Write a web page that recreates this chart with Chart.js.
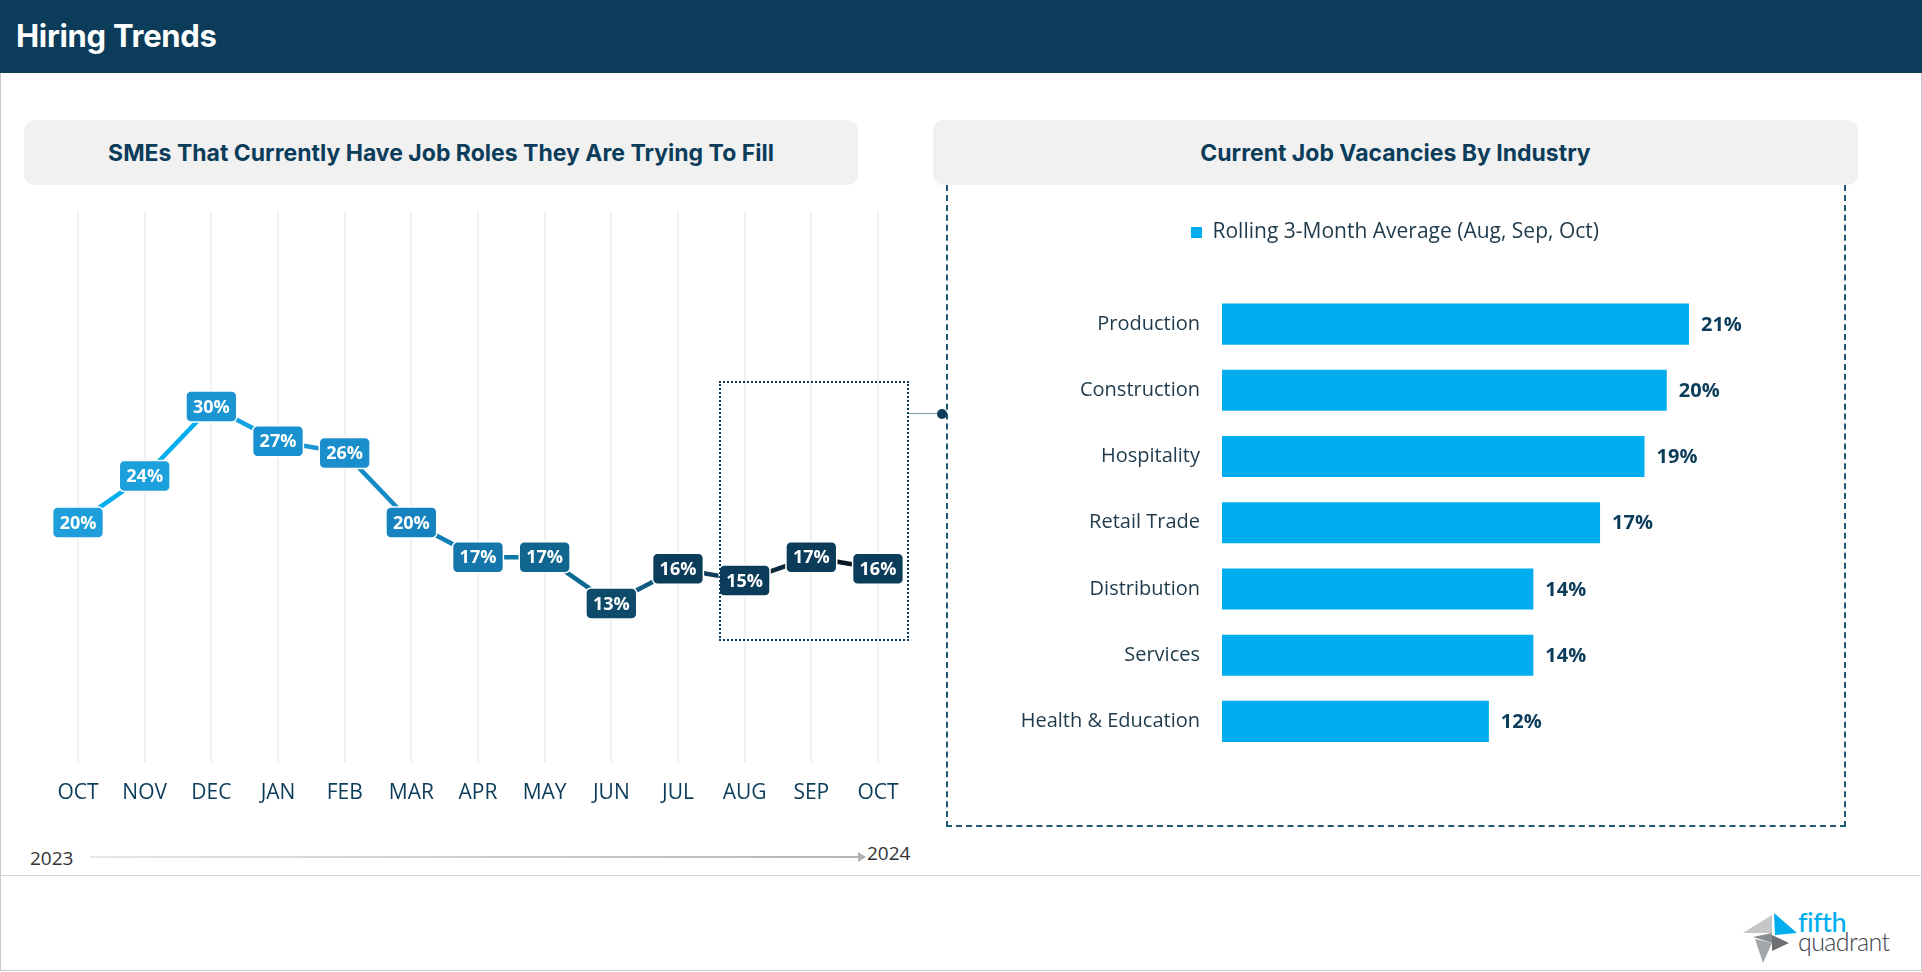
<!DOCTYPE html>
<html>
<head>
<meta charset="utf-8">
<script src="https://cdn.jsdelivr.net/npm/chart.js@4.4.0/dist/chart.umd.min.js"></script>
<style>
  body { margin: 0; width: 1922px; height: 972px; background: #fff; position: relative; overflow: hidden; font-family: "Open Sans", sans-serif; }
  .frame { position: absolute; left: 0; top: 73px; width: 1920px; height: 897px; border-left: 1px solid #c8c8c8; border-right: 1px solid #c8c8c8; border-bottom: 1px solid #c8c8c8; }
  .header { position: absolute; left: 0; top: 0; width: 1922px; height: 73px; background: #0b3c5a; }
  .header h1 { margin: 0; position: absolute; left: 16px; top: 17px; color: #fff; font: 700 31px Inter, sans-serif; line-height: 38px; letter-spacing: -0.3px; }
  .panel-title { position: absolute; top: 120px; height: 65px; background: #f1f1f1; border-radius: 11px; color: #0b3c5a; font: 700 23px Inter, sans-serif; display: flex; align-items: center; justify-content: center; }
  .dash-box { position: absolute; left: 946px; top: 185px; width: 896px; height: 640px; border: 2px dashed #1f5872; border-top: none; }
  .dot-box { position: absolute; left: 719px; top: 381px; width: 186px; height: 256px; border: 2px dotted #0b3c5a; }
  .connector { position: absolute; left: 909px; top: 413px; width: 33px; height: 1px; background: #7d9aa6; }
  .connector-dot { position: absolute; left: 937px; top: 409px; width: 10px; height: 10px; border-radius: 50%; background: #0b3c5a; }
  canvas { position: absolute; }
  .year { position: absolute; font-size: 19px; color: #333; }
  .year-line { position: absolute; left: 90px; top: 856px; width: 768px; height: 2px; background: linear-gradient(to right, #e6e6e6, #b5b5b5); }
  .year-arrow { position: absolute; left: 858px; top: 852px; width: 0; height: 0; border-top: 5px solid transparent; border-bottom: 5px solid transparent; border-left: 8px solid #b0b0b0; }
  .separator { position: absolute; left: 0; top: 875px; width: 1922px; height: 1px; background: #d4d4d4; }
  .logo { position: absolute; left: 1743px; top: 908px; width: 170px; height: 58px; }
  .logo .fifth { position: absolute; left: 55px; top: -3px; font: 500 27px Lato, sans-serif; color: #00aeef; letter-spacing: -0.5px; }
  .logo .quad { position: absolute; left: 55px; top: 18px; font: 300 25px Lato, sans-serif; color: #3a4048; letter-spacing: -0.6px; }
</style>
</head>
<body>
<div class="header"><h1>Hiring Trends</h1></div>
<div class="frame"></div>

<div class="panel-title" style="left:24px; width:834px;">SMEs That Currently Have Job Roles They Are Trying To Fill</div>
<div class="panel-title" style="left:933px; width:925px;">Current Job Vacancies By Industry</div>
<div class="dash-box"></div>

<canvas id="chart-line" width="940" height="647" style="left:0; top:185px; width:940px; height:647px;"></canvas>
<canvas id="chart-bar" width="898" height="642" style="left:946px; top:185px; width:898px; height:642px;"></canvas>

<div class="dot-box"></div>
<div class="connector"></div>
<div class="connector-dot"></div>

<div class="year" style="left:30px; top:845px;">2023</div>
<div class="year-line"></div>
<div class="year-arrow"></div>
<div class="year" style="left:867px; top:840px;">2024</div>
<div class="separator"></div>

<div class="logo">
  <svg width="56" height="52" viewBox="0 0 56 52" style="position:absolute; left:0; top:5px;">
    <polygon points="0,20 29,2 29,20" fill="#c4c6c8"/>
    <polygon points="31,0 32,22 54,20" fill="#00aeef"/>
    <polygon points="29,20 10,24 29,30" fill="#8a8d90"/>
    <polygon points="29,22 46,30 29,38" fill="#6d7073"/>
    <polygon points="12,26 29,30 20,50" fill="#a3a6a9"/>
  </svg>
  <div class="fifth">fifth</div>
  <div class="quad">quadrant</div>
</div>

<script>
const months = ["OCT", "NOV", "DEC", "JAN", "FEB", "MAR", "APR", "MAY", "JUN", "JUL", "AUG", "SEP", "OCT"];
const smeShare = [20, 24, 30, 27, 26, 20, 17, 17, 13, 16, 15, 17, 16];

const industries = ["Production", "Construction", "Hospitality", "Retail Trade", "Distribution", "Services", "Health & Education"];
const vacancyShare = [21, 20, 19, 17, 14, 14, 12];
const vacancyLabel = "Rolling 3-Month Average (Aug, Sep, Oct)";

// colour ramps for the line (light blue fading to navy)
const segmentColors = ["#00aeef", "#00aeef", "#12a3e2", "#1796d3", "#138ac5", "#0e7fb6", "#0b7aa9", "#0b6a90", "#0b5a80", "#0b3c5a", "#0b2b3d", "#08161f"];
const boxColors = ["#1e9fdb", "#1ba0dc", "#1b95d2", "#1990cf", "#1a8ecb", "#1682bf", "#1476aa", "#10668f", "#0e4a6a", "#0b3d5b", "#0b3c5a", "#0b3c5a", "#0b3c5a"];

Chart.defaults.font.family = "'Open Sans', sans-serif";
Chart.defaults.animation = false;

const pointLabels = {
  id: "pointLabels",
  afterDatasetsDraw(chart) {
    const ctx = chart.ctx;
    const meta = chart.getDatasetMeta(0);
    ctx.save();
    ctx.font = "700 18px 'Open Sans'";
    ctx.textAlign = "center";
    ctx.textBaseline = "middle";
    meta.data.forEach((pt, i) => {
      const txt = smeShare[i] + "%";
      const w = ctx.measureText(txt).width + 14;
      const h = 31;
      ctx.beginPath();
      ctx.roundRect(pt.x - w / 2, pt.y - h / 2, w, h, 5);
      ctx.fillStyle = boxColors[i];
      ctx.fill();
      ctx.lineWidth = 1.5;
      ctx.strokeStyle = "#ffffff";
      ctx.stroke();
      ctx.fillStyle = "#ffffff";
      ctx.fillText(txt, pt.x, pt.y + 1);
    });
    ctx.restore();
  },
};

new Chart(document.getElementById("chart-line"), {
  type: "line",
  data: {
    labels: months,
    datasets: [
      {
        data: smeShare,
        borderWidth: 4.5,
        pointRadius: 0,
        tension: 0,
        segment: { borderColor: (c) => segmentColors[c.p0DataIndex] },
      },
    ],
  },
  options: {
    responsive: false,
    layout: { padding: { top: 26, left: 44.7, right: 28.7, bottom: 8 } },
    plugins: { legend: { display: false }, tooltip: { enabled: false } },
    scales: {
      x: {
        offset: true,
        grid: { offset: false, color: "#f0f0f0", lineWidth: 2, drawTicks: false },
        border: { display: false },
        ticks: { color: "#0b3c5a", font: { size: 21 }, padding: 18.5, maxRotation: 0, autoSkip: false },
      },
      y: { display: false, min: -0.65, max: 46.87 },
    },
  },
  plugins: [pointLabels],
});

const barValues = {
  id: "barValues",
  afterDatasetsDraw(chart) {
    const ctx = chart.ctx;
    const meta = chart.getDatasetMeta(0);
    ctx.save();
    ctx.font = "700 20px 'Open Sans'";
    ctx.fillStyle = "#0b3c5a";
    ctx.textAlign = "left";
    ctx.textBaseline = "middle";
    meta.data.forEach((bar, i) => {
      ctx.fillText(vacancyShare[i] + "%", bar.x + 12, bar.y + 1);
    });
    ctx.restore();
  },
};

const legendGap = {
  id: "legendGap",
  beforeInit(chart) {
    const fit = chart.legend.fit;
    chart.legend.fit = function () {
      fit.bind(chart.legend)();
      this.height += 38;
    };
  },
};

new Chart(document.getElementById("chart-bar"), {
  type: "bar",
  data: {
    labels: industries,
    datasets: [
      {
        label: vacancyLabel,
        data: vacancyShare,
        backgroundColor: "#00aeef",
        borderWidth: 0,
        barPercentage: 0.62,
        categoryPercentage: 1,
      },
    ],
  },
  options: {
    responsive: false,
    indexAxis: "y",
    layout: { padding: { top: 27, left: 0, right: 0, bottom: 72.5 } },
    plugins: {
      legend: {
        labels: { boxWidth: 11, boxHeight: 11, color: "#1e3a4c", font: { size: 21 } },
      },
      tooltip: { enabled: false },
    },
    scales: {
      x: { display: false, min: 0, max: 27.97 },
      y: {
        grid: { display: false },
        border: { display: false },
        ticks: { color: "#1e3a4c", font: { size: 20 }, padding: 14 },
        afterFit: (s) => { s.width = 276; },
      },
    },
  },
  plugins: [barValues, legendGap],
});
</script>
</body>
</html>
